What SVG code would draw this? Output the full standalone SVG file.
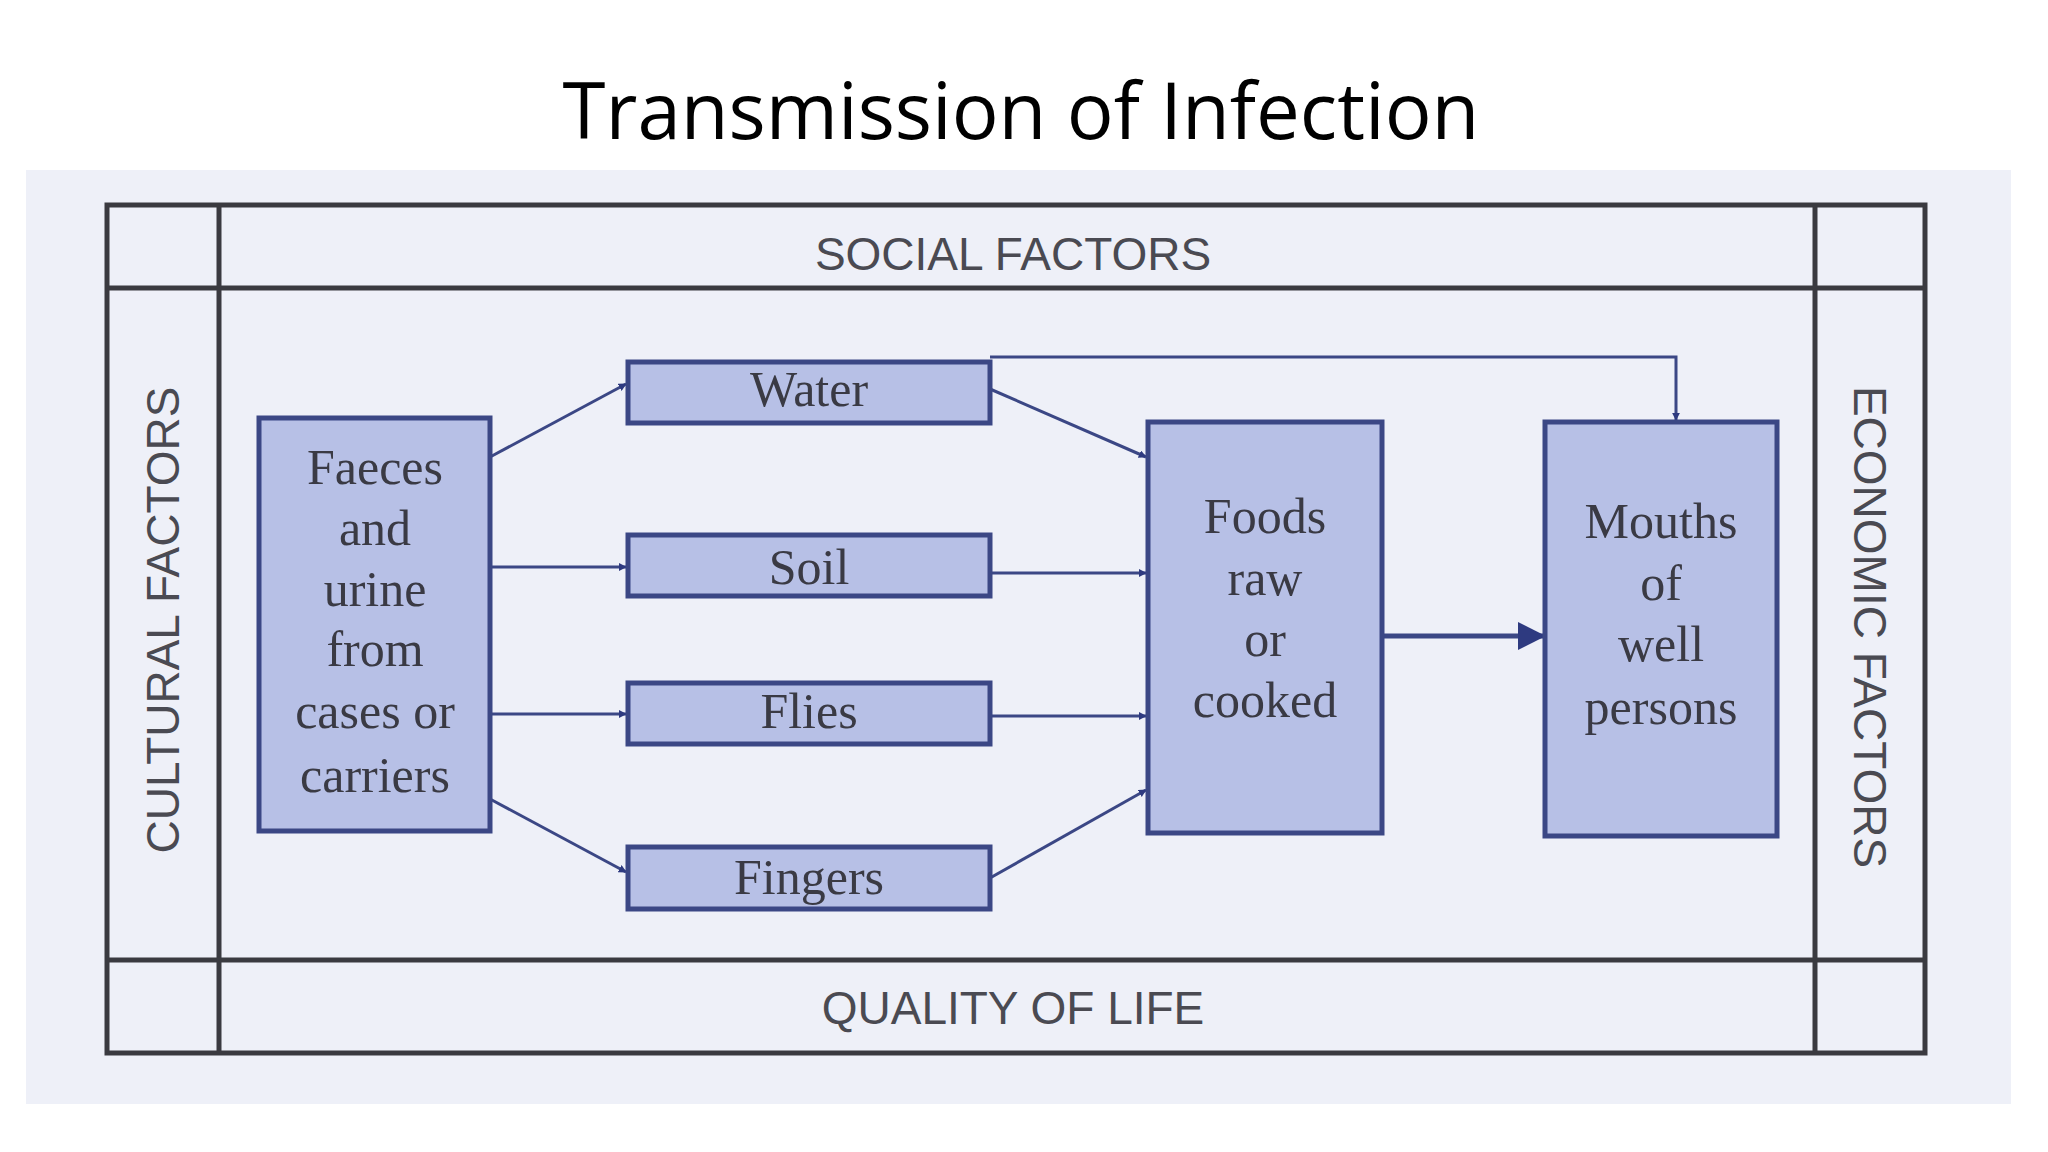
<svg xmlns="http://www.w3.org/2000/svg" width="2048" height="1152" viewBox="0 0 2048 1152">
<style>
.frame{fill:none;stroke:#3a3a40;stroke-width:5}
.box{fill:#b7c0e6;stroke:#3b4785;stroke-width:5}
.t{font-family:"Liberation Serif",serif;font-size:50px;fill:#3a3a44;text-anchor:middle}
.f{font-family:"Liberation Sans",sans-serif;font-size:46px;fill:#4a4a52;text-anchor:middle}
.c{fill:none;stroke:#3b4785;stroke-width:3;marker-end:url(#ah)}
</style>
<defs><marker id="ah" viewBox="0 0 10 10" refX="9" refY="5" markerWidth="8" markerHeight="8" markerUnits="userSpaceOnUse" orient="auto"><path d="M0,0L10,5L0,10z" fill="#2e3a80"/></marker>
<marker id="ah2" viewBox="0 0 10 10" refX="9" refY="5" markerWidth="28" markerHeight="28" markerUnits="userSpaceOnUse" orient="auto"><path d="M0,0L10,5L0,10z" fill="#2e3a80"/></marker></defs>
<rect width="2048" height="1152" fill="#fff"/>
<text x="1021" y="139" font-family="'Open Sans',sans-serif" font-size="78" text-anchor="middle" fill="#000">Transmission of Infection</text>
<rect x="26" y="170" width="1985" height="934" fill="#eef0f8"/>
<g id="frame">
<rect class="frame" x="107" y="205" width="1818" height="848"/>
<line class="frame" x1="219" y1="205" x2="219" y2="1053"/>
<line class="frame" x1="1815" y1="205" x2="1815" y2="1053"/>
<line class="frame" x1="107" y1="288" x2="1925" y2="288"/>
<line class="frame" x1="107" y1="960" x2="1925" y2="960"/>
<text class="f" x="1013" y="270">SOCIAL FACTORS</text>
<text class="f" x="1013" y="1024">QUALITY OF LIFE</text>
<text class="f" transform="translate(179,620) rotate(-90)">CULTURAL FACTORS</text>
<text class="f" transform="translate(1854,627) rotate(90)">ECONOMIC FACTORS</text>
</g>
<g id="connectors">
<line class="c" x1="490" y1="457" x2="626" y2="384"/>
<line class="c" x1="490" y1="567" x2="626" y2="567"/>
<line class="c" x1="490" y1="714" x2="626" y2="714"/>
<line class="c" x1="490" y1="799" x2="626" y2="872"/>
<line class="c" x1="990" y1="389" x2="1146" y2="457"/>
<line class="c" x1="990" y1="573" x2="1146" y2="573"/>
<line class="c" x1="990" y1="716" x2="1146" y2="716"/>
<line class="c" x1="990" y1="878" x2="1146" y2="790"/>
<polyline class="c" points="990,357 1676,357 1676,420"/>
<line x1="1382" y1="636" x2="1543" y2="636" stroke="#3b4785" stroke-width="5" marker-end="url(#ah2)"/>
</g>
<g id="faeces"><rect class="box" x="259" y="418" width="231" height="413"/>
<text class="t" x="375" y="484">Faeces</text><text class="t" x="375" y="545">and</text><text class="t" x="375" y="606">urine</text><text class="t" x="375" y="666">from</text><text class="t" x="375" y="728">cases or</text><text class="t" x="375" y="792">carriers</text></g>
<g id="water"><rect class="box" x="628" y="362" width="362" height="61"/><text class="t" x="809" y="406">Water</text></g>
<g id="soil"><rect class="box" x="628" y="535" width="362" height="61"/><text class="t" x="809" y="584">Soil</text></g>
<g id="flies"><rect class="box" x="628" y="683" width="362" height="61"/><text class="t" x="809" y="728">Flies</text></g>
<g id="fingers"><rect class="box" x="628" y="847" width="362" height="62"/><text class="t" x="809" y="894">Fingers</text></g>
<g id="foods"><rect class="box" x="1148" y="422" width="234" height="411"/>
<text class="t" x="1265" y="533">Foods</text><text class="t" x="1265" y="595">raw</text><text class="t" x="1265" y="656">or</text><text class="t" x="1265" y="717">cooked</text></g>
<g id="mouths"><rect class="box" x="1545" y="422" width="232" height="414"/>
<text class="t" x="1661" y="538">Mouths</text><text class="t" x="1661" y="600">of</text><text class="t" x="1661" y="661">well</text><text class="t" x="1661" y="724">persons</text></g>
</svg>
